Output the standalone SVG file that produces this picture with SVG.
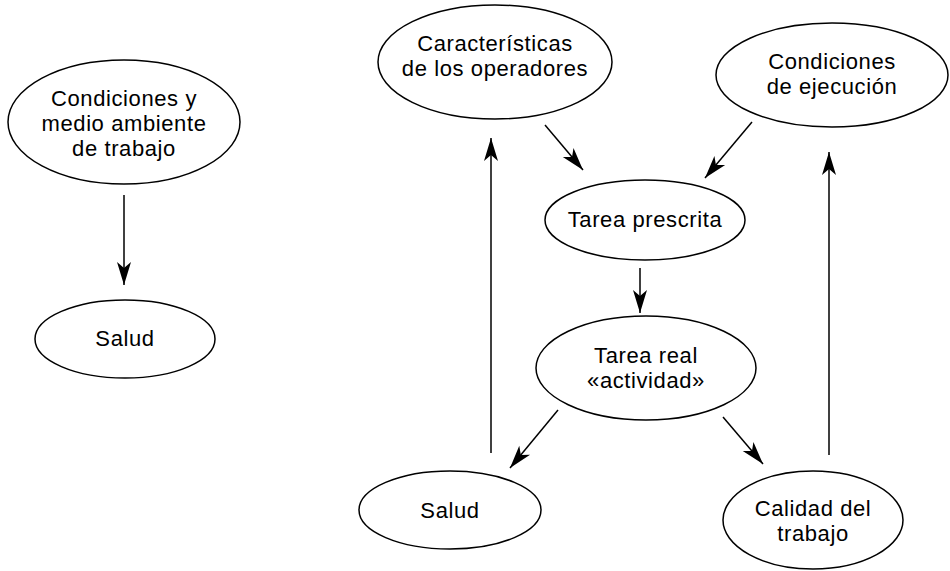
<svg xmlns="http://www.w3.org/2000/svg" width="950" height="571" viewBox="0 0 950 571">
<style>
.n ellipse{fill:#fff;stroke:#000;stroke-width:1.5}
.n text{font-family:"Liberation Sans",Arial,sans-serif;font-size:22px;letter-spacing:0.6px;fill:#000;text-anchor:middle}
#edges line{stroke:#000;stroke-width:1.5;fill:none;marker-end:url(#ah)}
</style>
<defs>
<marker id="ah" markerUnits="userSpaceOnUse" markerWidth="26" markerHeight="16" viewBox="-24 -8 26 16" refX="0" refY="0" orient="auto">
<path d="M0,0 L-23,-7 L-17,0 L-23,7 Z" fill="#000"/>
</marker>
</defs>
<rect width="950" height="571" fill="#fff"/>
<g id="edges">
<line x1="124" y1="195" x2="124" y2="285"/>
<line x1="545" y1="125" x2="583" y2="170"/>
<line x1="752" y1="122" x2="705" y2="178"/>
<line x1="640" y1="268" x2="640" y2="313"/>
<line x1="558" y1="410" x2="510" y2="468"/>
<line x1="723" y1="417" x2="763" y2="464"/>
<line x1="491" y1="453" x2="491" y2="138"/>
<line x1="829" y1="455" x2="829" y2="152"/>
</g>
<g id="n-condiciones-medio" class="n">
<ellipse cx="124" cy="122" rx="116" ry="62"/>
<text x="124" y="106">Condiciones y</text>
<text x="124" y="131">medio ambiente</text>
<text x="124" y="156">de trabajo</text>
</g>
<g id="n-salud-left" class="n">
<ellipse cx="125" cy="339" rx="90" ry="39"/>
<text x="125" y="346">Salud</text>
</g>
<g id="n-caracteristicas" class="n">
<ellipse cx="495" cy="62" rx="117" ry="57"/>
<text x="495" y="51">Características</text>
<text x="495" y="76">de los operadores</text>
</g>
<g id="n-condiciones-ejecucion" class="n">
<ellipse cx="832" cy="75" rx="116" ry="52"/>
<text x="832" y="69">Condiciones</text>
<text x="832" y="94">de ejecución</text>
</g>
<g id="n-tarea-prescrita" class="n">
<ellipse cx="645" cy="220" rx="100" ry="40"/>
<text x="645" y="227">Tarea prescrita</text>
</g>
<g id="n-tarea-real" class="n">
<ellipse cx="646" cy="368" rx="110" ry="52"/>
<text x="646" y="363">Tarea real</text>
<text x="646" y="388">«actividad»</text>
</g>
<g id="n-salud" class="n">
<ellipse cx="450" cy="510" rx="91" ry="39"/>
<text x="450" y="518">Salud</text>
</g>
<g id="n-calidad" class="n">
<ellipse cx="813" cy="520" rx="90" ry="49"/>
<text x="813" y="516">Calidad del</text>
<text x="813" y="541">trabajo</text>
</g>
</svg>
